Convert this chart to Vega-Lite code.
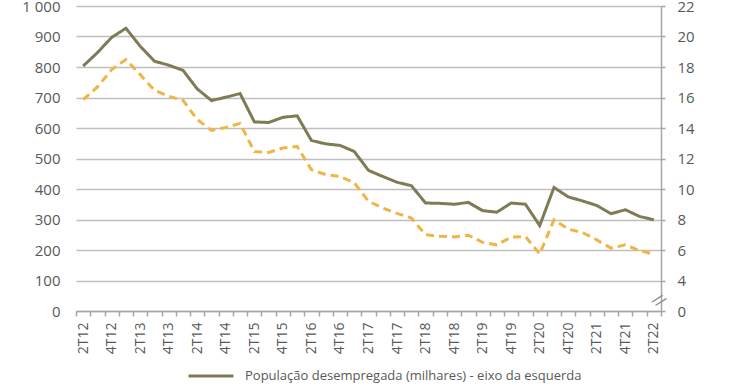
{
  "$schema": "https://vega.github.io/schema/vega-lite/v6.json",
  "width": 585,
  "height": 305,
  "autosize": "none",
  "padding": {"left": 76, "top": 6, "right": 79, "bottom": 78},
  "background": "white",
  "config": {
    "view": {"stroke": null},
    "font": "Open Sans",
    "axis": {"labelColor": "#595959", "labelFont": "Open Sans", "titleColor": "#595959"},
    "legend": {"labelColor": "#595959", "labelFont": "Open Sans"}
  },
  "data": {
    "values": [
      {"q": "2T12", "pop": 803, "taxa": 15.86},
      {"q": "3T12", "pop": 847, "taxa": 16.69},
      {"q": "4T12", "pop": 897, "taxa": 17.83},
      {"q": "1T13", "pop": 927, "taxa": 18.49},
      {"q": "2T13", "pop": 868, "taxa": 17.5},
      {"q": "3T13", "pop": 819, "taxa": 16.47},
      {"q": "4T13", "pop": 806, "taxa": 16.08},
      {"q": "1T14", "pop": 789, "taxa": 15.81},
      {"q": "2T14", "pop": 728, "taxa": 14.55},
      {"q": "3T14", "pop": 690, "taxa": 13.84},
      {"q": "4T14", "pop": 701, "taxa": 14.04},
      {"q": "1T15", "pop": 713, "taxa": 14.3},
      {"q": "2T15", "pop": 620, "taxa": 12.45},
      {"q": "3T15", "pop": 618, "taxa": 12.4},
      {"q": "4T15", "pop": 635, "taxa": 12.69},
      {"q": "1T16", "pop": 640, "taxa": 12.79},
      {"q": "2T16", "pop": 559, "taxa": 11.26},
      {"q": "3T16", "pop": 548, "taxa": 10.95},
      {"q": "4T16", "pop": 543, "taxa": 10.82},
      {"q": "1T17", "pop": 523, "taxa": 10.41},
      {"q": "2T17", "pop": 461, "taxa": 9.2},
      {"q": "3T17", "pop": 441, "taxa": 8.75},
      {"q": "4T17", "pop": 422, "taxa": 8.4},
      {"q": "1T18", "pop": 411, "taxa": 8.1},
      {"q": "2T18", "pop": 354, "taxa": 7.0},
      {"q": "3T18", "pop": 353, "taxa": 6.9},
      {"q": "4T18", "pop": 350, "taxa": 6.86},
      {"q": "1T19", "pop": 356, "taxa": 6.97},
      {"q": "2T19", "pop": 329, "taxa": 6.5},
      {"q": "3T19", "pop": 324, "taxa": 6.34},
      {"q": "4T19", "pop": 354, "taxa": 6.84},
      {"q": "1T20", "pop": 350, "taxa": 6.88},
      {"q": "2T20", "pop": 280, "taxa": 5.74},
      {"q": "3T20", "pop": 405, "taxa": 7.98},
      {"q": "4T20", "pop": 374, "taxa": 7.37},
      {"q": "1T21", "pop": 361, "taxa": 7.14},
      {"q": "2T21", "pop": 346, "taxa": 6.66},
      {"q": "3T21", "pop": 319, "taxa": 6.12},
      {"q": "4T21", "pop": 332, "taxa": 6.34},
      {"q": "1T22", "pop": 310, "taxa": 5.96},
      {"q": "2T22", "pop": 299, "taxa": 5.72}
    ]
  },
  "encoding": {
    "x": {
      "field": "q",
      "type": "ordinal",
      "sort": null,
      "title": null,
      "scale": {"type": "band", "paddingInner": 0, "paddingOuter": 0},
      "axis": {
        "tickBand": "extent",
        "labelAngle": -90,
        "labelFontSize": 14,
        "labelPadding": 6,
        "tickSize": 5,
        "tickColor": "#a6a6a6",
        "tickWidth": 1.5,
        "domainColor": "#a6a6a6",
        "domainWidth": 1.5,
        "grid": false,
        "labelExpr": "(substring(datum.label,0,1) == '2' || substring(datum.label,0,1) == '4') ? datum.label : ''"
      }
    }
  },
  "layer": [
    {
      "mark": {"type": "line", "strokeWidth": 3},
      "encoding": {
        "y": {
          "field": "pop",
          "type": "quantitative",
          "title": null,
          "scale": {"domain": [0, 1000], "nice": false},
          "axis": {
            "orient": "left",
            "values": [0, 100, 200, 300, 400, 500, 600, 700, 800, 900, 1000],
            "labelExpr": "datum.value == 1000 ? '1 000' : datum.label",
            "labelFontSize": 15,
            "labelPadding": 16,
            "ticks": false,
            "domain": false,
            "grid": true,
            "gridColor": "#bfbfbf",
            "gridWidth": 1.5
          }
        },
        "color": {
          "datum": "População desempregada (milhares) - eixo da esquerda",
          "type": "nominal",
          "scale": {
            "domain": ["População desempregada (milhares) - eixo da esquerda", "Taxa de desemprego (%) - eixo da direita"],
            "range": ["#7f7b55", "#f0b547"]
          },
          "legend": {
            "orient": "none",
            "legendX": 111,
            "legendY": 346,
            "direction": "vertical",
            "title": null,
            "symbolType": "stroke",
            "symbolSize": 2025,
            "symbolStrokeWidth": 3,
            "labelFontSize": 13,
            "labelOffset": 10,
            "rowPadding": 4,
            "padding": 0,
            "labelLimit": 600
          }
        },
        "strokeDash": {
          "datum": "População desempregada (milhares) - eixo da esquerda",
          "type": "nominal",
          "scale": {
            "domain": ["População desempregada (milhares) - eixo da esquerda", "Taxa de desemprego (%) - eixo da direita"],
            "range": [[1, 0], [8, 5]]
          },
          "legend": null
        }
      }
    },
    {
      "encoding": {
        "y": {
          "field": "taxa",
          "type": "quantitative",
          "title": null,
          "scale": {"domain": [2, 22], "nice": false},
          "axis": {
            "orient": "right",
            "values": [2, 4, 6, 8, 10, 12, 14, 16, 18, 20, 22],
            "labelExpr": "datum.value == 2 ? '0' : datum.label",
            "labelFontSize": 15,
            "labelPadding": 12,
            "tickSize": 4,
            "tickColor": "#a6a6a6",
            "tickWidth": 1.5,
            "domain": true,
            "domainColor": "#a6a6a6",
            "domainWidth": 1.5,
            "grid": false
          }
        }
      },
      "layer": [
        {
          "mark": {"type": "line", "strokeWidth": 3},
          "encoding": {
            "color": {"datum": "Taxa de desemprego (%) - eixo da direita", "type": "nominal"},
            "strokeDash": {"datum": "Taxa de desemprego (%) - eixo da direita", "type": "nominal"}
          }
        },
        {
          "data": {"values": [{"q": "2T22", "taxa": 3, "brk": "//"}]},
          "mark": {"type": "text", "fontSize": 15, "fill": "#8c8c8c", "angle": 40, "dx": 7, "align": "center", "baseline": "middle", "font": "DejaVu Sans"},
          "encoding": {
            "text": {"field": "brk", "type": "nominal"}
          }
        }
      ]
    }
  ],
  "resolve": {"scale": {"y": "independent"}}
}
